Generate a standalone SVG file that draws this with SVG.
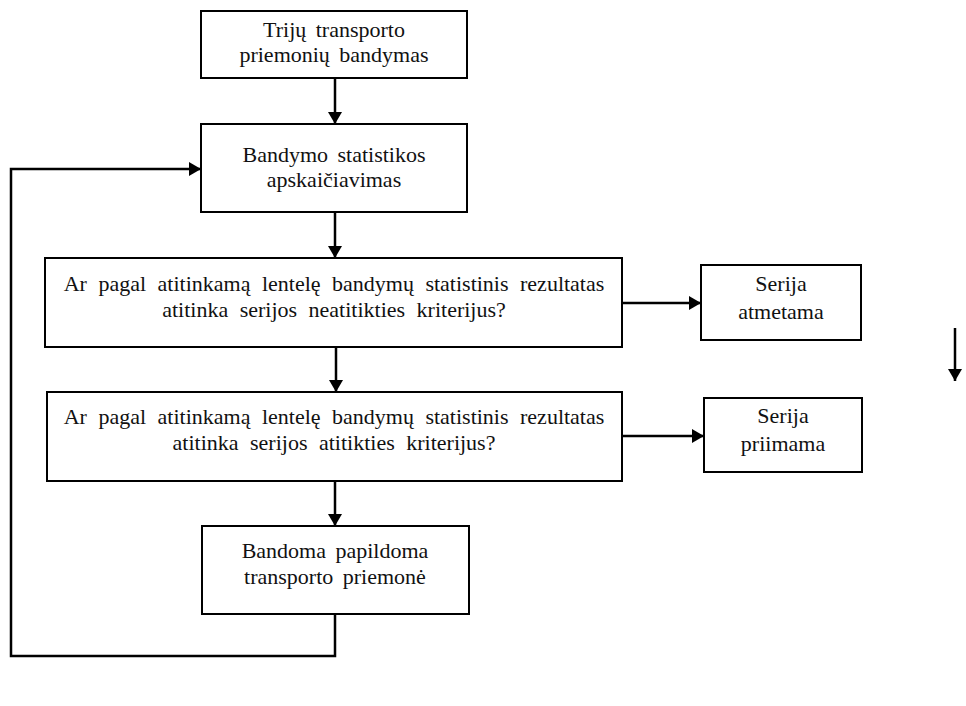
<svg xmlns="http://www.w3.org/2000/svg" width="966" height="706" viewBox="0 0 966 706">
<defs>
<marker id="ah" viewBox="0 0 12 14" refX="12" refY="7" markerWidth="12" markerHeight="14" markerUnits="userSpaceOnUse" orient="auto">
<path d="M0,0 L12,7 L0,14 z" fill="#000"/>
</marker>
<style>
.box{fill:#fff;stroke:#000;stroke-width:2}
.t{font-family:"Liberation Serif","Times New Roman",serif;font-size:22px;fill:#111;text-anchor:middle;word-spacing:4px}
.w{word-spacing:6px}
.c{fill:none;stroke:#000;stroke-width:2.5}
</style>
</defs>
<rect width="966" height="706" fill="#fff"/>
<g id="n1"><rect class="box" x="201" y="11" width="266" height="67"/>
<text class="t" x="334" y="37">Trijų transporto</text><text class="t" x="334" y="62">priemonių bandymas</text></g>
<g id="n2"><rect class="box" x="201" y="124" width="266" height="88"/>
<text class="t" x="334" y="162">Bandymo statistikos</text><text class="t" x="334" y="187">apskaičiavimas</text></g>
<g id="n3"><rect class="box" x="45" y="258" width="577" height="89"/>
<text class="t w" x="334" y="291">Ar pagal atitinkamą lentelę bandymų statistinis rezultatas</text><text class="t w" x="334" y="317">atitinka serijos neatitikties kriterijus?</text></g>
<g id="n4"><rect class="box" x="47" y="392" width="575" height="89"/>
<text class="t w" x="334" y="424">Ar pagal atitinkamą lentelę bandymų statistinis rezultatas</text><text class="t w" x="334" y="450">atitinka serijos atitikties kriterijus?</text></g>
<g id="n5"><rect class="box" x="202" y="526" width="267" height="88"/>
<text class="t" x="335" y="558">Bandoma papildoma</text><text class="t" x="335" y="584">transporto priemonė</text></g>
<g id="n6"><rect class="box" x="701" y="265" width="160" height="75"/>
<text class="t" x="781" y="291">Serija</text><text class="t" x="781" y="319">atmetama</text></g>
<g id="n7"><rect class="box" x="704" y="398" width="158" height="74"/>
<text class="t" x="783" y="423">Serija</text><text class="t" x="783" y="451">priimama</text></g>
<g id="connectors">
<line class="c" x1="335" y1="78" x2="335" y2="124" marker-end="url(#ah)"/>
<line class="c" x1="335" y1="212" x2="335" y2="258" marker-end="url(#ah)"/>
<line class="c" x1="336" y1="347" x2="336" y2="392" marker-end="url(#ah)"/>
<line class="c" x1="335" y1="481" x2="335" y2="526" marker-end="url(#ah)"/>
<line class="c" x1="622" y1="303" x2="701" y2="303" marker-end="url(#ah)"/>
<line class="c" x1="622" y1="436" x2="704" y2="436" marker-end="url(#ah)"/>
<polyline class="c" points="335,614 335,656 11,656 11,169 201,169" marker-end="url(#ah)"/>
<line class="c" x1="955" y1="328" x2="955" y2="381" marker-end="url(#ah)"/>
</g>
</svg>
